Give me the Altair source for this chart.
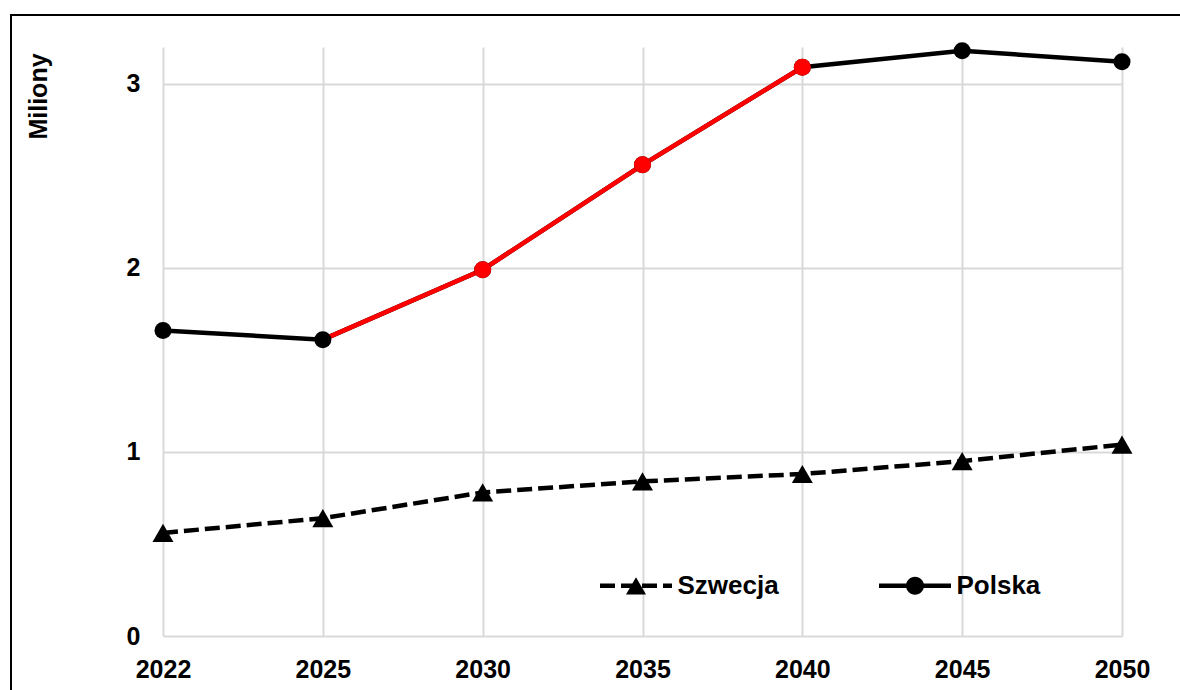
import altair as alt
import pandas as pd

years = ["2022", "2025", "2030", "2035", "2040", "2045", "2050"]
polska = [1.66, 1.61, 1.99, 2.56, 3.09, 3.18, 3.12]
szwecja = [0.56, 0.64, 0.78, 0.84, 0.88, 0.95, 1.04]
red_line_years = ["2025", "2030", "2035", "2040"]
red_point_years = ["2030", "2035", "2040"]
y_ticks = [0, 1, 2, 3]
series_order = ["Szwecja", "Polska"]

rows = []
for yr, v in zip(years, polska):
    rows.append({"rok": yr, "seria": "Polska", "wartosc": v})
for yr, v in zip(years, szwecja):
    rows.append({"rok": yr, "seria": "Szwecja", "wartosc": v})
df = pd.DataFrame(rows)
df_red_line = df[(df.seria == "Polska") & (df.rok.isin(red_line_years))]
df_red_pts = df[(df.seria == "Polska") & (df.rok.isin(red_point_years))]

FONT = "Liberation Sans"
LW = 4.5
DASH = [15, 6]

x_enc = alt.X("rok:N", sort=years, scale=alt.Scale(type="point", padding=0),
              axis=alt.Axis(title=None, labelAngle=0, grid=True, ticks=False, tickSize=0,
                            domain=False, labelPadding=21, labelFontSize=25,
                            labelFontWeight="bold", labelFont=FONT, labelColor="black",
                            gridColor="#d9d9d9", gridWidth=2))
y_enc = alt.Y("wartosc:Q", scale=alt.Scale(domain=[0, 3.2], nice=False, zero=True),
              axis=alt.Axis(title="Miliony", values=y_ticks, format="d", grid=True,
                            ticks=False, tickSize=0, domain=False, labelPadding=23,
                            labelFontSize=25, labelFontWeight="bold", labelFont=FONT,
                            labelColor="black", gridColor="#d9d9d9", gridWidth=2,
                            titleFont=FONT, titleFontSize=25, titleFontWeight="bold",
                            titleColor="black", titleAngle=270, titleX=-125, titleY=49,
                            titleAlign="center", titleBaseline="middle"))

base = alt.Chart(df)

line_sz = base.transform_filter(alt.datum.seria == "Szwecja").mark_line(
    color="black", strokeWidth=LW, strokeDash=DASH).encode(x=x_enc, y=y_enc)
line_pl = base.transform_filter(alt.datum.seria == "Polska").mark_line(
    color="black", strokeWidth=LW).encode(x=x_enc, y=y_enc)
line_red = alt.Chart(df_red_line).mark_line(color="#ff0000", strokeWidth=LW).encode(
    x=x_enc, y=y_enc)

points = base.mark_point(filled=True, color="black", opacity=1).encode(
    x=x_enc, y=y_enc,
    shape=alt.Shape("seria:N", scale=alt.Scale(domain=series_order,
                                               range=["triangle-up", "circle"]),
                    legend=None),
    size=alt.Size("seria:N", scale=alt.Scale(domain=series_order,
                                             range=[440, 290]), legend=None),
)
points_red = alt.Chart(df_red_pts).mark_point(filled=True, color="#ff0000", size=290,
                                              shape="circle", opacity=1).encode(
    x=x_enc, y=y_enc)

# Legend: a line-symbol legend and a marker legend laid exactly on top of each other
LEG_COMMON = dict(title=None, orient="none", legendX=434.5, legendY=500,
                  direction="horizontal", symbolSize=5184, symbolStrokeWidth=LW,
                  labelFontSize=26, labelFont=FONT, labelFontWeight="bold",
                  labelColor="black", labelOffset=3, padding=0)

leg_lines = alt.Chart(df).transform_filter("false").mark_line(
    color="black", strokeWidth=LW).encode(
    x=x_enc, y=y_enc,
    strokeDash=alt.StrokeDash("seria:N", scale=alt.Scale(domain=series_order,
                                                         range=[DASH, [1, 0]]),
                              legend=alt.Legend(symbolType="stroke",
                                                symbolStrokeColor="black",
                                                columnPadding=90,
                                                zindex=1, **LEG_COMMON)))

path_tri = "M0,-0.24L0.278,0.24L-0.278,0.24Z"
path_circ = "M-0.25,0A0.25,0.25,0,1,0,0.25,0A0.25,0.25,0,1,0,-0.25,0Z"

leg_marks = alt.Chart(df).transform_filter("false").mark_point(
    filled=True, color="black", opacity=1).encode(
    x=x_enc, y=y_enc,
    shape=alt.Shape("seria:N", scale=alt.Scale(domain=series_order,
                                               range=[path_tri, path_circ]),
                    legend=alt.Legend(symbolFillColor="black", symbolOpacity=1,
                                      symbolStrokeColor="transparent",
                                      labelExpr="''", columnPadding=199,
                                      zindex=2, **LEG_COMMON)))

frame_data = alt.Data(values=[{"a": 1}])
frame_left = alt.Chart(frame_data).mark_rule(color="black", strokeWidth=2).encode(
    x=alt.value(-152), y=alt.value(-32), y2=alt.value(700))
frame_top = alt.Chart(frame_data).mark_rule(color="black", strokeWidth=2).encode(
    x=alt.value(-153), x2=alt.value(1100), y=alt.value(-32))

chart = alt.layer(line_sz, line_pl, line_red, points, points_red, leg_lines, leg_marks,
                  frame_left, frame_top).resolve_scale(
    shape="independent", size="independent").resolve_legend(
    shape="independent").properties(
    width=959, height=589,
    autosize=alt.AutoSizeParams(type="none"),
    padding={"left": 163, "top": 47, "right": 58, "bottom": 54},
    background="white",
).configure_view(stroke=None)

chart.save("out.html", embed_options={"renderer": "svg", "actions": False})
